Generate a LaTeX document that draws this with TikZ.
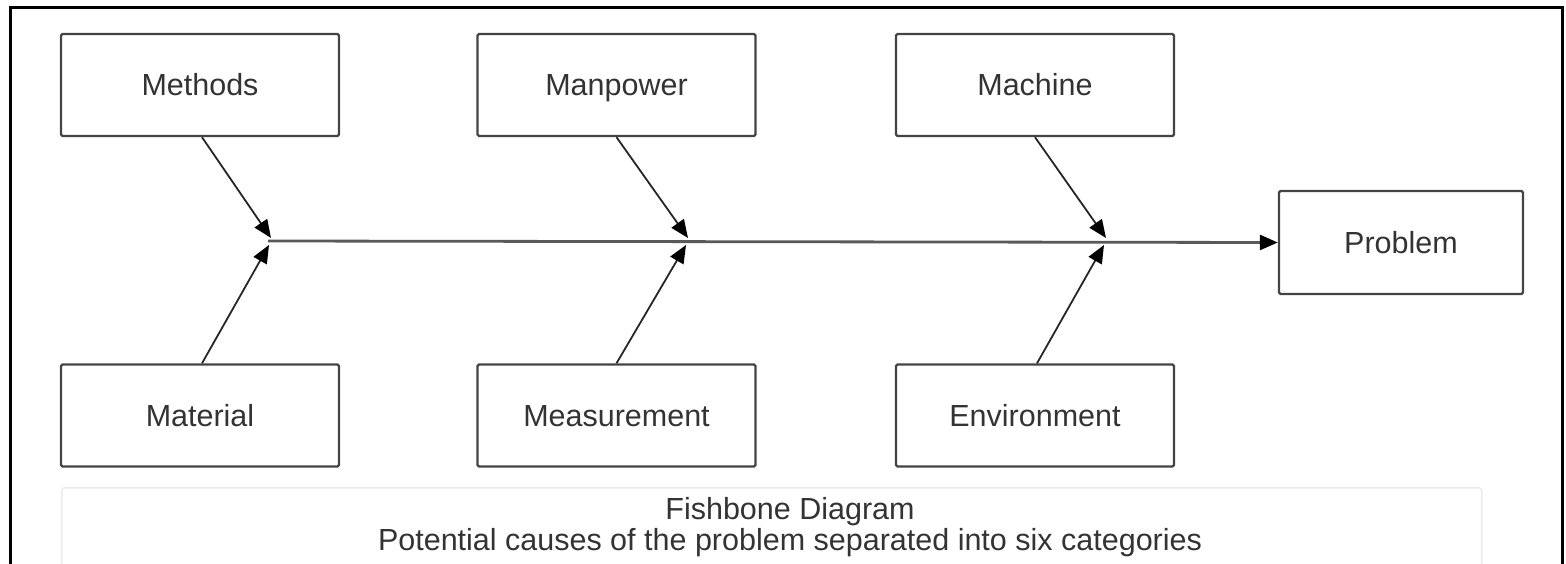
\documentclass[tikz,border=0pt]{standalone}
\usepackage{fontspec}
\setmainfont{Liberation Sans}
\usetikzlibrary{arrows.meta}
\definecolor{txt}{HTML}{333333}
\definecolor{edge}{HTML}{444444}
\begin{document}
\begin{tikzpicture}[x=1pt,y=-1pt,
  cause/.style={draw=edge, line width=2.4pt, rounded corners=1.5pt, fill=white,
    minimum width=278pt, minimum height=102pt, inner sep=0pt,
    font=\fontsize{30.5}{34}\selectfont, text=txt, text height=24pt, text depth=2pt},
  tip/.style={-{Triangle[length=18pt,width=15pt,fill=black,color=black]}},
  arr/.style={draw=black!85, line width=1.8pt, tip},
  spine/.style={draw=black!65, line width=2.8pt, tip}]
\useasboundingbox (0,0) rectangle (1566,564);
% outer frame
\draw[line width=3pt] (10,600) -- (10,8) -- (1562,8) -- (1562,600);
% caption box
\node[draw=black!8, line width=1.5pt, rounded corners=3pt, minimum width=1420pt, minimum height=120pt, inner sep=0pt, anchor=north west] (capbox) at (61,487) {};
\node[font=\fontsize{30.5}{31}\selectfont, text=txt, align=center] (cap) at (790,527) {Fishbone Diagram\\Potential causes of the problem separated into six categories};
% cause boxes
\node[cause] (methods) at (200,85) {Methods};
\node[cause] (manpower) at (616.5,85) {Manpower};
\node[cause] (machine) at (1035,85) {Machine};
\node[cause] (material) at (200,415.5) {Material};
\node[cause] (measurement) at (616.5,415.5) {Measurement};
\node[cause] (environment) at (1035,415.5) {Environment};
\node[cause, minimum width=244pt, minimum height=103pt] (problem) at (1401,242.5) {Problem};
% junctions
\coordinate (j1) at (268,241);
\coordinate (j1u) at (271,238);
\coordinate (j1d) at (269,245);
\coordinate (j2u) at (688,238);
\coordinate (j2d) at (686,245);
\coordinate (j3u) at (1106,238);
\coordinate (j3d) at (1104,245);
% spine
\draw[spine] (j1) -- (problem.west);
% bones
\draw[arr] (methods.south) ++(2,0) -- (j1u);
\draw[arr] (material.north) ++(2,0) -- (j1d);
\draw[arr] (manpower.south) -- (j2u);
\draw[arr] (measurement.north) -- (j2d);
\draw[arr] (machine.south) -- (j3u);
\draw[arr] (environment.north) ++(2,0) -- (j3d);
\end{tikzpicture}
\end{document}
